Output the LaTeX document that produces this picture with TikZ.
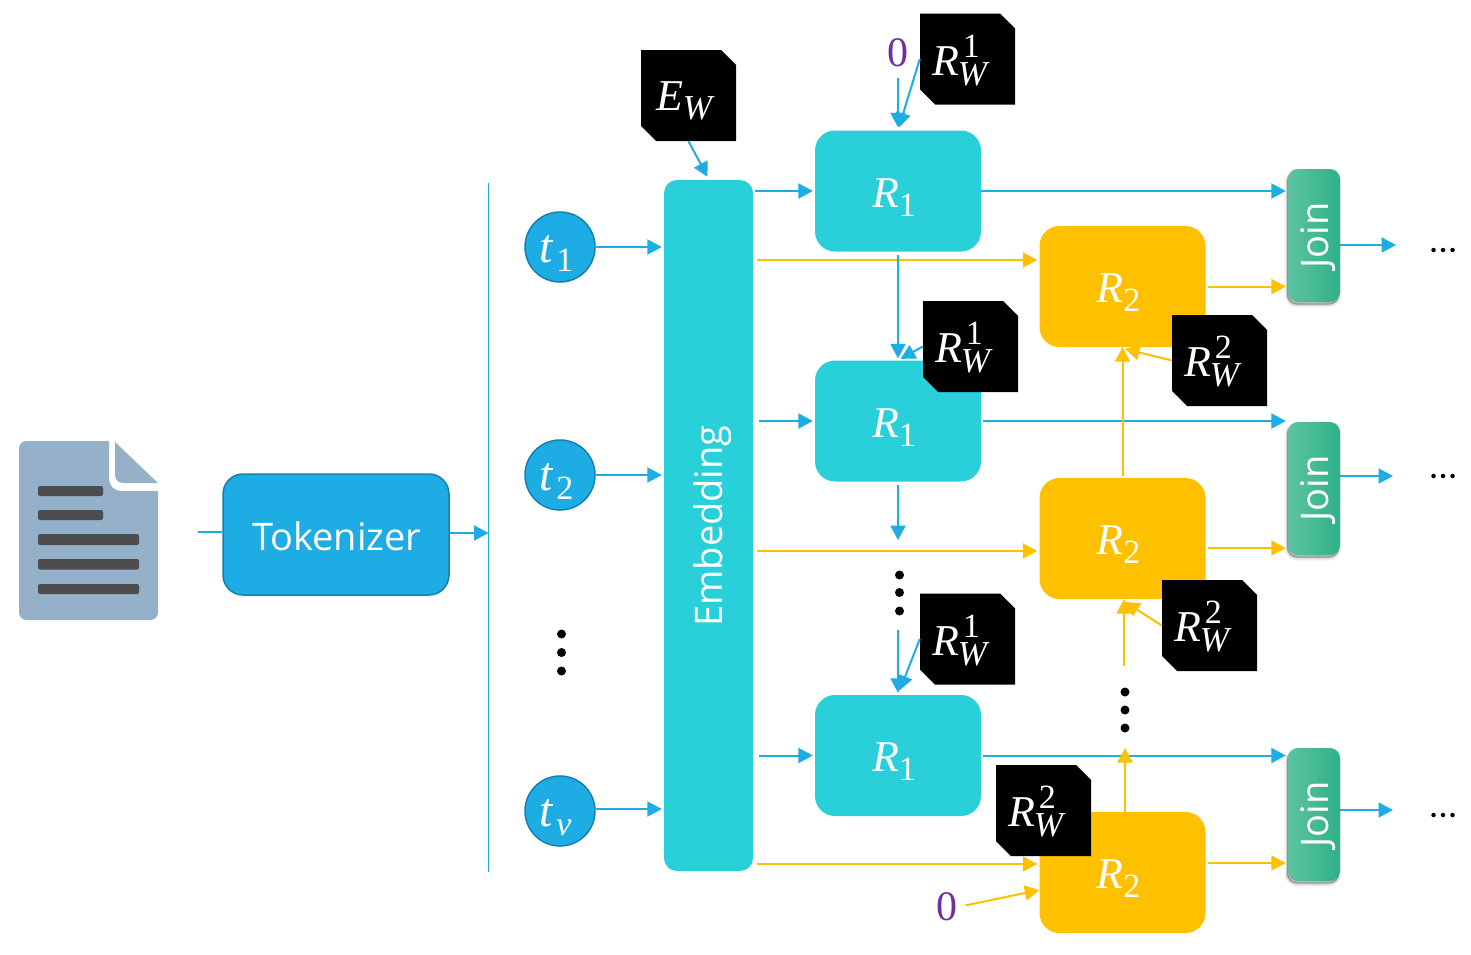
\documentclass[tikz,border=0pt]{standalone}
\usepackage{fontspec}
\setmainfont{Liberation Serif}
\newfontfamily\uisans{Open Sans}
\usetikzlibrary{arrows.meta}
\definecolor{cblue}{HTML}{1DACE4}
\definecolor{cedge}{HTML}{1580AE}
\definecolor{cteal}{HTML}{29CFD9}
\definecolor{cgold}{HTML}{FFC000}
\definecolor{cviolet}{HTML}{7030A0}
\definecolor{cdoc}{HTML}{95B0C9}
\definecolor{cbar}{HTML}{4D4D4F}
\definecolor{cjoinl}{HTML}{5CC4A0}
\definecolor{cjoinr}{HTML}{2FB088}
\newcommand\Placed[3]{\rlap{\smash{\hspace*{#1}\raisebox{-#2}{#3}}}}
\newcommand\BigF{\fontsize{44}{44}\selectfont}
\newcommand\SmallF{\fontsize{34}{34}\selectfont}
\newcommand\SubTxt[2]{\BigF\textit{#1}\raisebox{-9pt}{\SmallF #2}}
\newcommand\BoxLab[2]{\Placed{-26pt}{16pt}{\SubTxt{#1}{#2}}}
\newcommand\TokLab[2]{\Placed{-21pt}{15pt}{\fontsize{48}{48}\selectfont\textit{t}\kern3pt\raisebox{-9.5pt}{\SmallF #2}}}
\newcommand\CardLab[4]{\Placed{#1}{16pt}{\BigF\textit{#2}\rlap{\hspace*{4pt}\raisebox{18pt}{\SmallF #3}}\kern-1pt\raisebox{-10pt}{\fontsize{35}{35}\selectfont\textit{#4}}}}
\newcommand\UiText{\uisans\fontsize{38}{38}\selectfont}
\tikzset{
  x=1pt,y=-1pt,
  ba/.style={draw=cblue,line width=2pt,-{Triangle[length=14.5pt,width=15pt]}},
  ya/.style={draw=cgold,line width=2pt,-{Triangle[length=14.5pt,width=15pt]}},
  blueplain/.style={draw=cblue,line width=2pt},
  gap/.style 2 args={shorten <=#1pt,shorten >=#2pt},
  box/.style={rounded corners=20pt,minimum width=166pt,minimum height=121pt,inner sep=0pt,text=white},
  rone/.style={box,fill=cteal},
  rtwo/.style={box,fill=cgold},
  token/.style={circle,minimum size=70pt,inner sep=0pt,fill=cblue,draw=cedge,line width=1.5pt,text=white},
  card/.style={rectangle,minimum width=95pt,minimum height=91pt,inner sep=0pt,text=white,
    path picture={\fill[black] (path picture bounding box.north west) -- ([xshift=-15pt]path picture bounding box.north east) -- ([yshift=-15pt]path picture bounding box.north east) -- (path picture bounding box.south east) -- ([xshift=15pt]path picture bounding box.south west) -- ([yshift=15pt]path picture bounding box.south west) -- cycle;}},
  joinbox/.style={rounded corners=10pt,minimum width=52pt,minimum height=133pt,inner sep=0pt,text=white,left color=cjoinl,right color=cjoinr,
    preaction={fill=black,fill opacity=.05,draw=black,draw opacity=.05,line width=5pt,transform canvas={xshift=-1pt,yshift=-3pt}},
    preaction={fill=black,fill opacity=.08,draw=black,draw opacity=.08,line width=2.5pt,transform canvas={xshift=-1pt,yshift=-3pt}},
    preaction={fill=black,fill opacity=.15,draw=black,draw opacity=.15,line width=1pt,transform canvas={xshift=-1pt,yshift=-2pt}}},
  zero/.style={text=cviolet,font=\fontsize{42}{42}\selectfont,inner sep=0pt},
  ddot/.style={circle,fill=black,minimum size=9pt,inner sep=0pt},
  sdot/.style={circle,fill=black,minimum size=4.5pt,inner sep=0pt},
  iconbar/.style={fill=cbar,rounded corners=2pt},
}
\begin{document}
\begin{tikzpicture}
\useasboundingbox (0,0) rectangle (1471,954);
\fill[white] (0,0) rectangle (1471,954);
% document icon
\fill[cdoc] (19,449) .. controls (19,444) and (22,441) .. (27,441) -- (109,441) -- (109,478) .. controls (109,486) and (114,491) .. (122,491) -- (158,491) -- (158,612) .. controls (158,617) and (155,620) .. (150,620) -- (27,620) .. controls (22,620) and (19,617) .. (19,612) -- cycle;
\fill[cdoc] (115,442) -- (158,483) -- (124,483) .. controls (118,483) and (115,480) .. (115,474) -- cycle;
\fill[iconbar] (38,486) rectangle (103,496);
\fill[iconbar] (38,510) rectangle (103,520);
\fill[iconbar] (38,534) rectangle (139,545);
\fill[iconbar] (38,559) rectangle (139,569.5);
\fill[iconbar] (38,584) rectangle (139,594);
\coordinate (docout) at (158,532);
\coordinate (rulet) at (488.5,183);
\coordinate (ruleb) at (488.5,872);
% tokenizer
\node[fill=cblue,draw=cedge,line width=1.5pt,rounded corners=20pt,minimum width=226pt,minimum height=121pt,inner sep=0pt,text=white,font=\UiText] (tok) at (336,534.5) {\Placed{-84pt}{15.5pt}{Tokenizer}};
\draw[blueplain,line width=1.5pt] (rulet) -- (ruleb);
\draw[blueplain,shorten <=40pt] (docout) -- (tok.west |- docout);
\draw[ba] (tok.east |- 0,533) -- (rulet |- 0,533);
% tokens
\node[token] (t1) at (560,247) {\TokLab{t}{1}};
\node[token] (t2) at (560,475) {\TokLab{t}{2}};
\node[token] (tv) at (560,811) {\TokLab{t}{\textit{v}}};
\node[ddot] (d1a) at (561.5,634) {};
\node[ddot] (d1b) at (561.5,652.5) {};
\node[ddot] (d1c) at (561.5,671) {};
% embedding
\node[fill=cteal,rounded corners=13pt,minimum width=89pt,minimum height=691pt,inner sep=0pt] (emb) at (708.5,525.5) {};
\node[rotate=90,text=white,font=\UiText] (embt) at (713,526) {Embedding};
\draw[ba,gap={0}{2}] (t1.east) -- (emb.west |- t1.east);
\draw[ba,gap={0}{2}] (t2.east) -- (emb.west |- t2.east);
\draw[ba,gap={0}{2}] (tv.east |- 0,809) -- (emb.west |- 0,809);
% R1 boxes
\node[rone] (r1a) at (898,191) {\BoxLab{R}{1}};
\node[rone] (r1b) at (898,421) {\BoxLab{R}{1}};
\node[rone] (r1c) at (898,755.5) {\BoxLab{R}{1}};
% R2 boxes
\node[rtwo] (r2a) at (1122.5,286.5) {\BoxLab{R}{2}};
\node[rtwo] (r2b) at (1122.5,538.5) {\BoxLab{R}{2}};
\node[rtwo] (r2c) at (1122.5,872.5) {\BoxLab{R}{2}};
% join boxes
\node[joinbox] (ja) at (1314,235.5) {\hspace*{8pt}\rotatebox{90}{\UiText Join}};
\node[joinbox] (jb) at (1314,488.5) {\hspace*{8pt}\rotatebox{90}{\UiText Join}};
\node[joinbox] (jc) at (1314,814.5) {\hspace*{8pt}\rotatebox{90}{\UiText Join}};
% ellipses after join
\coordinate (ea) at (1396,245);
\coordinate (eb) at (1393,476);
\coordinate (ec) at (1393,810);
\node[sdot] (e1) at (1433.5,250) {};\node[sdot] (e2) at (1443,250) {};\node[sdot] (e3) at (1452.5,250) {};
\node[sdot] (e4) at (1433.5,476) {};\node[sdot] (e5) at (1443,476) {};\node[sdot] (e6) at (1452.5,476) {};
\node[sdot] (e7) at (1433.5,815) {};\node[sdot] (e8) at (1443,815) {};\node[sdot] (e9) at (1452.5,815) {};
\draw[ba] (ja.east |- ea) -- (ea);
\draw[ba] (jb.east |- eb) -- (eb);
\draw[ba] (jc.east |- ec) -- (ec);
% embedding to R boxes
\draw[ya,gap={4}{2}] (emb.east |- 0,260) -- (r2a.west |- 0,260);
\draw[ya,gap={4}{2}] (emb.east |- 0,551) -- (r2b.west |- 0,551);
\draw[ya,gap={4}{2}] (emb.east |- 0,864) -- (r2c.west |- 0,864);
\draw[ba,gap={2}{2}] (emb.east |- r1a.west) -- (r1a.west);
\draw[ba,gap={6}{2}] (emb.east |- r1b.west) -- (r1b.west);
\draw[ba,gap={6}{2}] (emb.east |- r1c.west) -- (r1c.west);
% R1 to join
\draw[ba,gap={0}{2}] (r1a.east) -- (ja.west |- r1a.east);
\draw[ba,gap={2}{2}] (r1b.east) -- (jb.west |- r1b.east);
\draw[ba,gap={2}{2}] (r1c.east) -- (jc.west |- r1c.east);
% R2 to join
\draw[ya,gap={2}{2}] (r2a.east) -- (ja.west |- r2a.east);
\draw[ya,gap={2}{2}] (r2b.east |- 0,548) -- (jb.west |- 0,548);
\draw[ya,gap={2}{2}] (r2c.east |- 0,863) -- (jc.west |- 0,863);
% vertical chains
\coordinate (r1bend) at (898,540);
\coordinate (r1cstart) at (898,630);
\node[ddot] (d2a) at (899.5,575) {};
\node[ddot] (d2b) at (899.5,592.5) {};
\node[ddot] (d2c) at (899.5,611) {};
\draw[ba,gap={3}{2}] (r1a.south) -- (r1b.north);
\draw[ba,gap={3}{0}] (r1b.south) -- (r1bend);
\draw[ba,gap={0}{2}] (r1cstart) -- (r1c.north);
\coordinate (r2cend) at (1125,748);
\coordinate (r2bstart) at (1124,666);
\node[ddot] (d3a) at (1125,692) {};
\node[ddot] (d3b) at (1125,710) {};
\node[ddot] (d3c) at (1125,728) {};
\draw[ya,gap={2}{0}] (r2b.north) -- (r2a.south);
\draw[ya] (r2bstart) -- (r2bstart |- r2b.south);
\draw[ya] (r2c.north -| r2cend) -- (r2cend);
% zero inputs
\node[zero] (z1) at (898,53) {0};
\node[zero] (z2) at (947,907) {0};
\draw[ba,gap={11}{3}] (z1.south) -- (r1a.north);
\draw[ya,gap={8}{0}] (z2.east) -- (r2c.west |- 0,890);
% weight cards
\node[card] (ew) at (688.5,95.5) {\Placed{-32.5pt}{14.5pt}{\BigF\textit{E}\raisebox{-9pt}{\fontsize{35}{35}\selectfont\textit{W}}}};
\node[card] (c1a) at (967.5,59) {\CardLab{-35.5pt}{R}{1}{W}};
\node[card] (c1b) at (970.5,346.5) {\CardLab{-35.5pt}{R}{1}{W}};
\node[card] (c1c) at (967.5,639) {\CardLab{-35.5pt}{R}{1}{W}};
\node[card] (c2a) at (1219.5,360.5) {\CardLab{-35.5pt}{R}{2}{W}};
\node[card] (c2b) at (1209.5,625.5) {\CardLab{-35.5pt}{R}{2}{W}};
\draw[ba] (ew.south) -- ([xshift=-1pt,yshift=3pt]emb.north);
\draw[ba,gap={0}{3}] (c1a.west) -- (r1a.north);
\draw[ba,shorten >=3pt] (c1b.west) -- (r1b.north);
\draw[ba,shorten >=5pt] (c1c.west) -- (r1c.north);
\draw[ya] (c2a.west) -- (1125,349);
\draw[ya] (c2b.west) -- (1125,602);
\node[card] (c2c) at (1043.5,810.5) {\CardLab{-35.5pt}{R}{2}{W}};
\end{tikzpicture}
\end{document}
